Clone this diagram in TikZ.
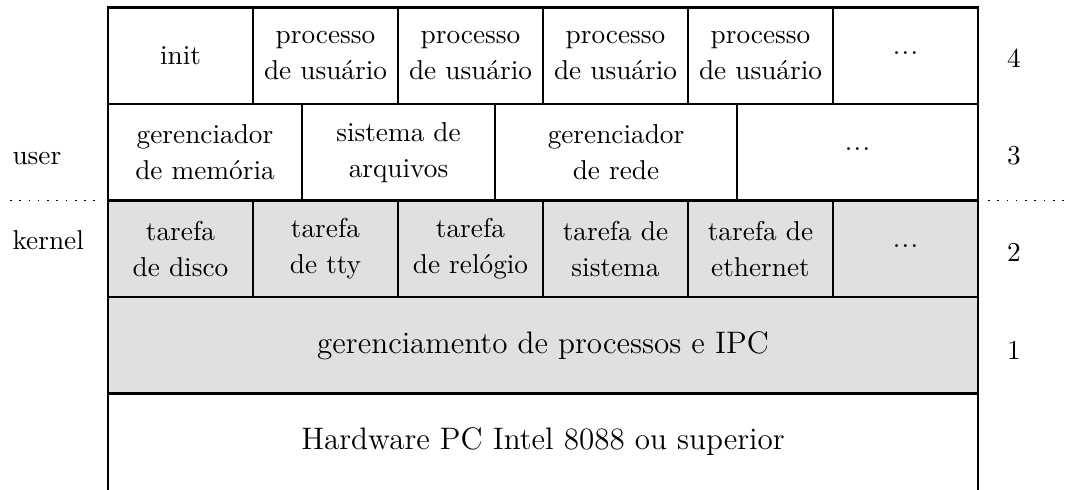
\documentclass[tikz,border=0pt]{standalone}
\usepackage{fontspec}
% tightly spaced ellipsis for the open-ended cells, raised to mid height
\newcommand\moredots{\raisebox{2pt}{.\kern0.05em.\kern0.05em.}}
\begin{document}
\begin{tikzpicture}[x=0.3667pt, y=-0.3667pt,
  cellsize/.style 2 args={minimum width=#1*0.3667pt, minimum height=#2*0.3667pt},
  box/.style={draw, line width=1pt, align=center, inner sep=0pt,
    font=\fontsize{10}{13.2}\selectfont},
  kbox/.style={box, fill=black!12},
  big/.style={font=\fontsize{11.4}{14}\selectfont},
  side/.style={font=\fontsize{10}{12}\selectfont, inner sep=0pt},
  sep/.style={line width=0.6pt, dash pattern=on 0.6pt off 2.8pt}]
\useasboundingbox (0,0) rectangle (1068,490);

% layer 4: processes
\node[box, cellsize={145}{96.5}] (init) at (180.5,55.75) {init};
\node[box, cellsize={145}{96.5}] (p1) at (325.5,55.75) {processo\\de usuário};
\node[box, cellsize={145}{96.5}] (p2) at (470.5,55.75) {processo\\de usuário};
\node[box, cellsize={145}{96.5}] (p3) at (615.5,55.75) {processo\\de usuário};
\node[box, cellsize={145}{96.5}] (p4) at (760.5,55.75) {processo\\de usuário};
\node[box, cellsize={145}{96.5}] (p5) at (905.5,55.75) {\moredots};

% layer 3: servers
\node[box, cellsize={194}{96.5}] (mm) at (205,152.25) {gerenciador\\de memória};
\node[box, cellsize={193}{96.5}] (fs) at (398.5,152.25) {sistema de\\arquivos};
\node[box, cellsize={242}{96.5}] (net) at (616,152.25) {gerenciador\\de rede};
\node[box, cellsize={241}{96.5}] (s4) at (857.5,152.25) {\moredots};

% layer 2: kernel tasks
\node[kbox, cellsize={145}{96.5}] (disk) at (180.5,248.75) {tarefa\\de disco};
\node[kbox, cellsize={145}{96.5}] (tty) at (325.5,248.75) {tarefa\\de tty};
\node[kbox, cellsize={145}{96.5}] (clock) at (470.5,248.75) {tarefa\\de relógio};
\node[kbox, cellsize={145}{96.5}] (sys) at (615.5,248.75) {tarefa de\\sistema};
\node[kbox, cellsize={145}{96.5}] (eth) at (760.5,248.75) {tarefa de\\ethernet};
\node[kbox, cellsize={145}{96.5}] (t6) at (905.5,248.75) {\moredots};

% layer 1: process management
\node[kbox, big, cellsize={870}{96.5}] (ipc) at (543,345.25) {gerenciamento de processos e IPC};

% hardware (open at the bottom)
\node[box, draw=none, outer sep=0pt, big, cellsize={870}{96.5}] (hw) at (543,441.75) {Hardware PC Intel 8088 ou superior};
\draw[line width=1pt] (hw.south west) -- (hw.north west) -- (hw.north east) -- (hw.south east);

% user / kernel boundary
\coordinate (l0) at (10,200.5);
\coordinate (l1) at (101,200.5);
\coordinate (r0) at (988,200.5);
\coordinate (r1) at (1066,200.5);
\draw[sep] (l0) -- (l1);
\draw[sep] (r0) -- (r1);
\node[side, anchor=west] (user) at (12,159) {user};
\node[side, anchor=west] (kernel) at (12,240) {kernel};

% layer numbers
\node[side] (n4) at (1014,58) {4};
\node[side] (n3) at (1014,156) {3};
\node[side] (n2) at (1014,252) {2};
\node[side] (n1) at (1014,350) {1};
\end{tikzpicture}
\end{document}
